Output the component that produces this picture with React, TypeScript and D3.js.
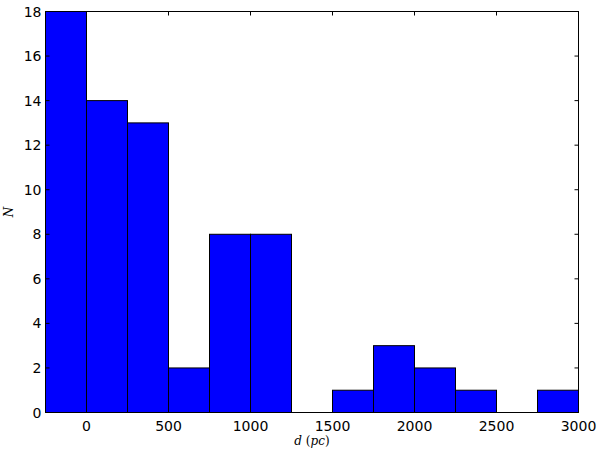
import React from "react";
import * as d3 from "d3";

const binStarts = [-250, 0, 250, 500, 750, 1000, 1250, 1500, 1750, 2000, 2250, 2500, 2750];
const binWidth = 250;
const counts = [18, 14, 13, 2, 8, 8, 0, 1, 3, 2, 1, 0, 1];
const xTicks = [0, 500, 1000, 1500, 2000, 2500, 3000];
const yTicks = [0, 2, 4, 6, 8, 10, 12, 14, 16, 18];

const W = 600, H = 453;
const L = 45.5, R = 578.5, T = 11.5, B = 412.5;

export default function App() {
  const x = d3.scaleLinear().domain([-250, 3000]).range([L, R]);
  const y = d3.scaleLinear().domain([0, 18]).range([B, T]);
  const font = "DejaVu Sans, sans-serif";
  return (
    <svg width={W} height={H} style={{ position: "absolute", left: 0, top: 0, background: "#fff" }}>
      <rect x={0} y={0} width={W} height={H} fill="#fff" />
      {binStarts.map((s, i) =>
        counts[i] > 0 ? (
          <rect key={i} x={x(s)} y={y(counts[i])} width={x(s + binWidth) - x(s)} height={y(0) - y(counts[i])}
            fill="#0000ff" stroke="#000" strokeWidth={1} />
        ) : null
      )}
      <rect x={L} y={T} width={R - L} height={B - T} fill="none" stroke="#000" strokeWidth={1} />
      {xTicks.map((t) => (
        <g key={t}>
          <line x1={x(t)} x2={x(t)} y1={B} y2={B - 4} stroke="#000" />
          <line x1={x(t)} x2={x(t)} y1={T} y2={T + 4} stroke="#000" />
          <text x={x(t)} y={B + 18} textAnchor="middle" fontFamily={font} fontSize={14}>{t}</text>
        </g>
      ))}
      {yTicks.map((t) => (
        <g key={t}>
          <line x1={L} x2={L + 4} y1={y(t)} y2={y(t)} stroke="#000" />
          <line x1={R} x2={R - 4} y1={y(t)} y2={y(t)} stroke="#000" />
          <text x={L - 4} y={y(t) + 5} textAnchor="end" fontFamily={font} fontSize={14}>{t}</text>
        </g>
      ))}
      <text x={(L + R) / 2} y={445} textAnchor="middle" fontFamily="DejaVu Serif, serif" fontSize={12}>
        <tspan fontStyle="italic">d</tspan> (<tspan fontStyle="italic">pc</tspan>)
      </text>
      <text x={13} y={(T + B) / 2} textAnchor="middle" fontFamily="DejaVu Serif, serif" fontSize={12} fontStyle="italic"
        transform={`rotate(-90, 13, ${(T + B) / 2})`}>N</text>
    </svg>
  );
}
